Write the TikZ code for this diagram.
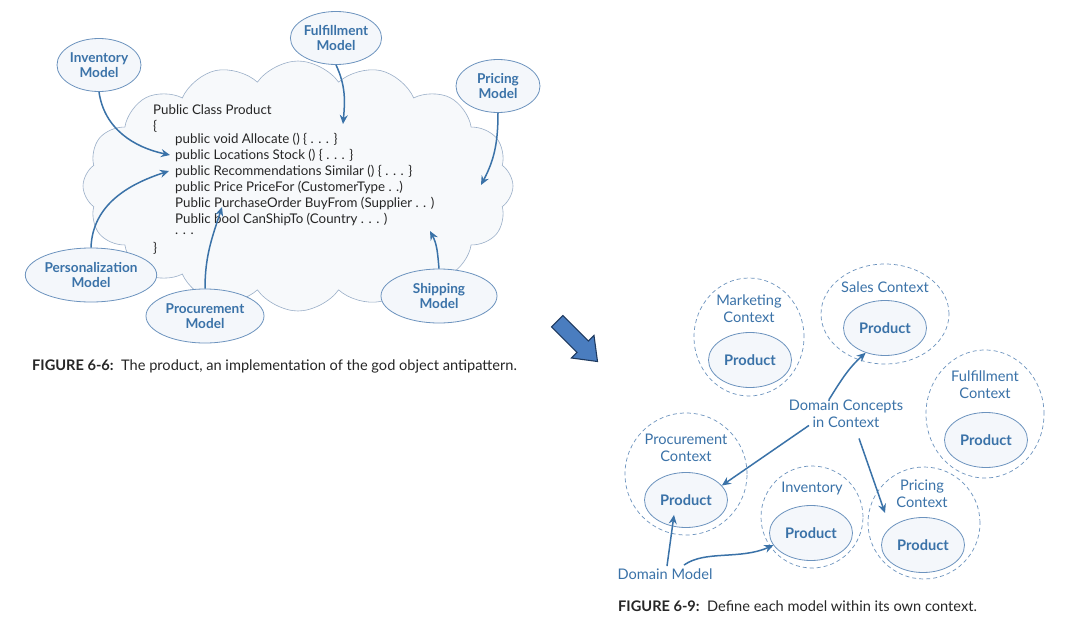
\documentclass[tikz,border=0pt]{standalone}
\usepackage{fontspec}
\setmainfont{Lato}
\usetikzlibrary{shapes.geometric,shapes.symbols,arrows.meta,calc}

\definecolor{azul}{HTML}{3A72A8}
\definecolor{borde}{HTML}{6C93BE}
\definecolor{relleno}{HTML}{F4F7FB}
\definecolor{nube}{HTML}{F7F9FB}
\definecolor{bordenube}{HTML}{9AAFC8}
\definecolor{flechazul}{HTML}{4A7DBF}
\definecolor{marino}{HTML}{1F3A5F}

\tikzset{
  modelo/.style={ellipse, draw=borde, fill=relleno, line width=0.8pt, inner sep=0pt,
    text=azul, align=center, font=\bfseries\fontsize{13.6}{15.5}\selectfont},
  producto/.style={modelo, minimum width=83pt, minimum height=55pt,
    font=\bfseries\fontsize{14.6}{16}\selectfont},
  contexto/.style={ellipse, draw=borde, dash pattern=on 4pt off 3pt, line width=0.7pt},
  etiqueta/.style={text=azul, align=center, font=\fontsize{14.6}{17}\selectfont},
  codigo/.style={anchor=west, inner sep=0pt, text=black!85, font=\fontsize{13.3}{15}\selectfont},
  flecha/.style={-{Stealth[length=9pt,width=8pt]}, line width=1.5pt, draw=azul},
  pie/.style={anchor=west, inner sep=0pt, text=black!85, font=\fontsize{14.6}{16}\selectfont}
}

\begin{document}
\begin{tikzpicture}[x=1pt,y=1pt]

  \useasboundingbox[fill=white] (0,0) rectangle (1080,-627);

  %%% Figura 6-6: la nube con la clase Product %%%
  \node[cloud, cloud puffs=16, cloud puff arc=110, aspect=1.7, draw=bordenube, fill=nube,
        line width=0.6pt, minimum width=430pt, minimum height=250pt] (nubeprod) at (298,-186) {};

  %Lineas del codigo
  \node[codigo] (clase) at (153,-110) {Public Class Product};
  \node[codigo] (abre) at (153,-126) {\{};
  \node[codigo] (allocate) at (175,-139) {public void Allocate () \{ . . . \}};
  \node[codigo] (stock) at (175,-155) {public Locations Stock () \{ . . . \}};
  \node[codigo] (similar) at (175,-171) {public Recommendations Similar () \{ . . . \}};
  \node[codigo] (pricefor) at (175,-187) {public Price PriceFor (CustomerType . .)};
  \node[codigo] (buyfrom) at (175,-203) {Public PurchaseOrder BuyFrom (Supplier . . )};
  \node[codigo] (canship) at (175,-219) {Public bool CanShipTo (Country . . . )};
  \node[codigo] (puntos) at (175,-234) {. . .};
  \node[codigo] (cierra) at (153,-248) {\}};

  %Modelos alrededor de la nube
  \node[modelo, minimum width=84pt, minimum height=53pt] (inv) at (99,-65) {Inventory\\Model};
  \node[modelo, minimum width=84pt, minimum height=53pt] (fulf) at (336,-38) {Fulfillment\\Model};
  \node[modelo, minimum width=84pt, minimum height=53pt] (precio) at (498,-86) {Pricing\\Model};
  \node[modelo, minimum width=118pt, minimum height=54pt] (pers) at (91,-275) {Personalization\\Model};
  \node[modelo, minimum width=118pt, minimum height=54pt] (proc) at (205,-316) {Procurement\\Model};
  \node[modelo, minimum width=116pt, minimum height=54pt] (envio) at (439,-296) {Shipping\\Model};

  %Puntas libres dentro de la nube
  \coordinate (fulffin) at (343,-124);
  \coordinate (preciofin) at (481,-185);
  \coordinate (procfin) at (222,-207);
  \coordinate (enviofin) at (430,-231);

  %Flechas de los modelos
  \draw[flecha] (inv.south) to[out=-82,in=168] ([xshift=-5pt]stock.west);
  \draw[flecha] (pers.north) to[out=88,in=198] ([xshift=-6pt]similar.west);
  \draw[flecha] (fulf.south) to[out=-65,in=85] (fulffin);
  \draw[flecha] (precio.south) to[out=-90,in=62] (preciofin);
  \draw[flecha] (proc.north) to[out=90,in=-108] (procfin);
  \draw[flecha] (envio.north) to[out=95,in=-62] (enviofin);

  \node[pie] (pie1) at (32,-366) {\textbf{FIGURE 6-6:}\ \ The product, an implementation of the god object antipattern.};

  %Flecha grande entre figuras
  \draw[draw=marino, fill=flechazul, line width=1.1pt, line join=miter, shift={(577,-341)}, rotate=-45]
    (-28,-8) -- (8,-8) -- (8,-16) -- (29,0) -- (8,16) -- (8,8) -- (-28,8) -- cycle;

  %%% Figura 6-9: cada modelo en su contexto %%%
  \node[contexto, minimum width=110pt, minimum height=118pt] (mktctx) at (749,-337) {};
  \node[etiqueta] (mktlbl) at (749,-309) {Marketing\\Context};
  \node[producto] (mktprod) at (750,-360) {Product};

  \node[contexto, minimum width=128pt, minimum height=100pt] (salesctx) at (885,-314) {};
  \node[etiqueta] (saleslbl) at (885,-287) {Sales Context};
  \node[producto] (salesprod) at (885,-328) {Product};

  \node[contexto, minimum width=118pt, minimum height=128pt] (fulfctx) at (985,-414) {};
  \node[etiqueta] (fulflbl) at (985,-385) {Fulfillment\\Context};
  \node[producto] (fulfprod) at (986,-440) {Product};

  \node[contexto, minimum width=122pt, minimum height=122pt] (procctx) at (686,-474) {};
  \node[etiqueta] (proclbl) at (686,-448) {Procurement\\Context};
  \node[producto] (procprod) at (686,-500) {Product};

  \node[contexto, minimum width=102pt, minimum height=102pt] (invctx) at (812,-517) {};
  \node[etiqueta] (invlbl) at (812,-489) {Inventory};
  \node[producto] (invprod) at (811,-533) {Product};

  \node[contexto, minimum width=112pt, minimum height=112pt] (pricectx) at (924,-523) {};
  \node[etiqueta] (pricelbl) at (922,-494) {Pricing\\Context};
  \node[producto] (priceprod) at (923,-545) {Product};

  \node[etiqueta] (conceptos) at (846,-414) {Domain Concepts\\in Context};
  \node[etiqueta] (dominio) at (665,-574) {Domain Model};

  %Flechas de la figura 6-9
  \draw[flecha] ($(conceptos.north)+(-17,-3)$) to[out=58,in=222] (salesprod.232);
  \draw[flecha] ($(conceptos.south)+(-37,6)$) -- (procprod.22);
  \draw[flecha] ($(conceptos.south)+(13,-7)$) -- ($(pricectx.center)+(-39,10)$);
  \draw[flecha] ($(dominio.north)+(2,-1)$) -- ($(procprod.south)+(-12,13)$);
  \draw[flecha] ($(dominio.north)+(19,0)$) .. controls (705,-550) and (740,-560) .. (invprod.198);

  \node[pie] (pie2) at (618,-606) {\textbf{FIGURE 6-9:}\ \ Define each model within its own context.};

\end{tikzpicture}
\end{document}
